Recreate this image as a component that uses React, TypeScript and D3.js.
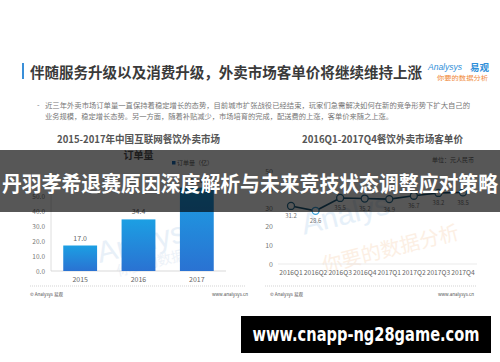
import React from "react";
import * as d3 from "d3";

const barYears = ["2015", "2016", "2017"];
const orderVolume = [17.0, 34.4, 55.6];
const leftTicks = [0, 10, 20, 30, 40, 50];

const quarters = ["2016Q1", "2016Q2", "2016Q3", "2016Q4", "2017Q1", "2017Q2", "2017Q3", "2017Q4"];
const unitPrice = [31.2, 28.6, 35.5, 35.2, 34.9, 36.7, 38.2, 38.5];
const rightTicks = [0, 10, 20, 30, 40, 50];

const mainTitle = "伴随服务升级以及消费升级，外卖市场客单价将继续维持上涨";
const bullet1 = "近三年外卖市场订单量一直保持着稳定增长的态势，目前城市扩张战役已经结束，玩家们急需解决如何在新的竞争形势下扩大自己的";
const bullet2 = "业务规模，稳定增长态势。另一方面，随着补贴减少，市场培育的完成，配送费的上涨，客单价来随之上涨。";
const bandText = "丹羽孝希退赛原因深度解析与未来竞技状态调整应对策略";
const urlText = "www.cnapp-ng28game.com";

const FONT = "'Noto Sans CJK SC', 'Noto Sans', sans-serif";

export default function App() {
  const xL = d3.scaleBand<string>().domain(barYears).range([51, 226]).paddingInner(0.42).paddingOuter(0.21);
  const yL = d3.scaleLinear().domain([0, 50]).range([271, 196]);

  const xR = d3.scalePoint<string>().domain(quarters).range([291, 463]);
  const yR = d3.scaleLinear().domain([0, 50]).range([264, 171]);

  const line = d3
    .line<number>()
    .x((_, i) => xR(quarters[i]) as number)
    .y((d) => yR(d));

  return (
    <svg
      width={500}
      height={362}
      style={{ position: "absolute", left: 0, top: 0, background: "#fff" }}
      fontFamily={FONT}
    >
      <defs>
        <linearGradient id="barGrad" x1="0" y1="0" x2="0" y2="1">
          <stop offset="0%" stopColor="#1c9fe3" />
          <stop offset="100%" stopColor="#2a72d2" />
        </linearGradient>
      </defs>
      <rect x={0} y={0} width={500} height={362} fill="#fff" />

      {/* header */}
      <rect x={22} y={63} width={2} height={16} fill="#3a8fd8" />
      <text x={30} y={77.5} fontSize={14.4} fontWeight="bold" fill="#3a3a3a" textLength={392} lengthAdjust="spacingAndGlyphs">
        {mainTitle}
      </text>
      <text x={428} y={70} fontSize={8.5} fontStyle="italic" fill="#2f8fd9" fontFamily="'Liberation Sans', sans-serif">
        Analysys
      </text>
      <text x={470} y={70.5} fontSize={9.5} fontWeight="bold" fill="#2f8fd9">
        易观
      </text>
      <text x={437} y={79.5} fontSize={6} fill="#f08a3a" textLength={51} lengthAdjust="spacingAndGlyphs">
        你要的数据分析
      </text>

      <text x={37} y={107.5} fontSize={7.4} fill="#777">-</text>
      <text x={45} y={107.5} fontSize={7.4} fill="#777" textLength={425} lengthAdjust="spacingAndGlyphs">
        {bullet1}
      </text>
      <text x={45} y={118.5} fontSize={7.4} fill="#777" textLength={348} lengthAdjust="spacingAndGlyphs">
        {bullet2}
      </text>

      {/* left chart */}
      <text x={138.5} y={142.5} fontSize={10} fontWeight="bold" fill="#555" textAnchor="middle" textLength={163} lengthAdjust="spacingAndGlyphs">
        2015-2017年中国互联网餐饮外卖市场
      </text>
      <text x={138.5} y={158.5} fontSize={10} fontWeight="bold" fill="#555" textAnchor="middle">
        订单量
      </text>
      <rect x={172} y={161} width={3.5} height={3.5} fill="#1f6fb8" />
      <text x={177} y={165} fontSize={6} fill="#666">订单量（亿）</text>

      {/* watermark left */}
      <text x={95} y={255} fontSize={30} fill="#e8f0f8" transform="rotate(-14 130 240)" fontFamily="'Liberation Sans', sans-serif">
        Analys
      </text>
      <text x={115} y={268} fontSize={14} fill="#edf2f8" transform="rotate(-14 150 260)">
        你要的数据分析
      </text>

      {leftTicks.map((t) => (
        <text key={t} x={45} y={yL(t) + 2.5} fontSize={6.5} fill="#777" textAnchor="end">
          {t.toFixed(1)}
        </text>
      ))}
      <line x1={51} x2={51} y1={192} y2={271} stroke="#d5d5d5" strokeWidth={0.8} />
      <line x1={51} x2={226} y1={271} y2={271} stroke="#cfcfcf" strokeWidth={0.8} />
      {barYears.map((yr, i) => (
        <g key={yr}>
          <rect
            x={xL(yr)}
            y={yL(orderVolume[i])}
            width={xL.bandwidth()}
            height={yL(0) - yL(orderVolume[i])}
            fill="url(#barGrad)"
          />
          <text x={(xL(yr) as number) + xL.bandwidth() / 2} y={yL(orderVolume[i]) - 5} fontSize={7} fill="#666" textAnchor="middle">
            {orderVolume[i].toFixed(1)}
          </text>
          <text x={(xL(yr) as number) + xL.bandwidth() / 2} y={282} fontSize={7} fill="#666" textAnchor="middle">
            {yr}
          </text>
        </g>
      ))}
      <line x1={30} x2={245} y1={286} y2={286} stroke="#c8c8c8" strokeWidth={0.8} strokeDasharray="1,1" />
      <text x={30} y={296} fontSize={4.5} fill="#555">© Analysys 易观</text>
      <text x={248} y={296} fontSize={4.5} fill="#555" textAnchor="end">www.analysys.cn</text>

      {/* right chart */}
      <text x={382.5} y={142.5} fontSize={10} fontWeight="bold" fill="#555" textAnchor="middle" textLength={161} lengthAdjust="spacingAndGlyphs">
        2016Q1-2017Q4餐饮外卖市场客单价
      </text>
      <text x={432} y={162} fontSize={6} fill="#666">单位：元人民币</text>

      <text x={300} y={228} fontSize={30} fill="#e6f0f9" transform="rotate(-14 330 215)" fontFamily="'Liberation Sans', sans-serif">
        Analys
      </text>
      <text x={318} y={258} fontSize={20} fill="#fcefe4" transform="rotate(-14 380 240)">
        你要的数据分析
      </text>

      {rightTicks.map((t) => (
        <text key={t} x={273} y={yR(t) + 2.5} fontSize={7} fill="#777" textAnchor="end">
          {t}
        </text>
      ))}
      <line x1={278} x2={477} y1={264} y2={264} stroke="#e6e6e6" strokeWidth={0.8} />
      <path d={line(unitPrice) || ""} fill="none" stroke="#1f5a7a" strokeWidth={1.6} />
      {quarters.map((q, i) => (
        <g key={q}>
          <circle cx={xR(q)} cy={yR(unitPrice[i])} r={3.5} fill="#fff" stroke={i === 1 ? "#3ea3dc" : "#2a6f94"} strokeWidth={1.3} />
          <text x={xR(q)} y={yR(unitPrice[i]) + 12.5} fontSize={6} fill="#777" textAnchor="middle">
            {unitPrice[i].toFixed(1)}
          </text>
          <text x={xR(q)} y={275} fontSize={6.8} fill="#666" textAnchor="middle" textLength={23.5} lengthAdjust="spacingAndGlyphs">
            {q}
          </text>
        </g>
      ))}
      <line x1={265} x2={477} y1={286} y2={286} stroke="#c8c8c8" strokeWidth={0.8} strokeDasharray="1,1" />
      <text x={270} y={296} fontSize={4.5} fill="#555">© Analysys 易观</text>
      <text x={474} y={296} fontSize={4.5} fill="#555" textAnchor="end">www.analysys.cn</text>

      {/* overlay band */}
      <rect x={0} y={150} width={500} height={62} fill="#000" opacity={0.66} />
      <text x={2} y={191} fontSize={21} fontWeight="bold" fill="#fff" textLength={496} lengthAdjust="spacingAndGlyphs">
        {bandText}
      </text>

      {/* url box */}
      <rect x={241} y={316} width={250} height={37} fill="#000" />
      <text x={366} y={341} fontSize={19} fontWeight="bold" fill="#fff" textAnchor="middle" textLength={227} lengthAdjust="spacingAndGlyphs" fontFamily="'DejaVu Sans', 'Open Sans', sans-serif">
        {urlText}
      </text>
    </svg>
  );
}
